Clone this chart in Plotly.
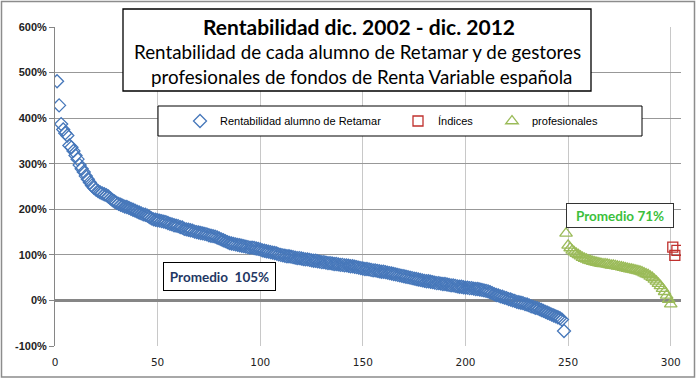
import plotly.graph_objects as go

# ---------------- data ----------------
alumnos_x = list(range(1, 249))
alumnos_y = [
    481, 428, 387, 375, 367, 362, 340, 336, 328, 318,
    310, 297, 289, 282, 273, 266, 259, 252, 247, 243,
    240, 237, 235, 233, 231, 228, 224, 220, 217, 214,
    212, 210, 208, 206, 205, 203, 201, 199, 197, 195,
    193, 191, 189, 188, 186, 183, 180, 178, 177, 176,
    175, 174, 173, 172, 170, 168, 167, 165, 164, 163,
    161, 160, 157, 156, 155, 154, 153, 151, 150, 149,
    148, 147, 146, 145, 143, 142, 141, 140, 138, 136,
    134, 132, 130, 128, 126, 125, 124, 123, 122, 121,
    120, 119, 118, 117, 116, 116, 115, 114, 113, 112,
    110, 109, 108, 107, 106, 105, 104, 103, 101, 100,
    99, 98, 97, 97, 96, 95, 94, 93, 93, 92,
    91, 90, 90, 89, 88, 87, 87, 86, 85, 84,
    84, 83, 82, 82, 81, 80, 80, 79, 78, 78,
    77, 77, 76, 75, 75, 74, 73, 72, 71, 70,
    69, 69, 68, 67, 66, 66, 65, 64, 63, 63,
    62, 61, 60, 59, 58, 57, 56, 55, 54, 53,
    52, 51, 50, 49, 48, 47, 46, 45, 44, 43,
    42, 42, 41, 40, 39, 38, 38, 37, 36, 36,
    35, 34, 33, 33, 32, 31, 30, 30, 29, 28,
    28, 27, 27, 26, 25, 25, 24, 23, 22, 21,
    20, 18, 16, 14, 12, 11, 9, 8, 6, 5,
    3, 2, 0, -1, -3, -4, -5, -6, -8, -9,
    -11, -13, -14, -16, -17, -19, -21, -23, -25, -27,
    -29, -31, -33, -35, -37, -39, -42, -67,
]

profesionales_x = list(range(249, 301))
profesionales_y = [
    147, 121, 115, 110, 106, 103, 100, 97, 94, 92,
    90, 88, 87, 85, 84, 83, 82, 81, 80, 80,
    79, 78, 77, 77, 76, 75, 74, 73, 72, 71,
    70, 69, 68, 67, 66, 65, 64, 62, 60, 58,
    56, 53, 50, 46, 42, 37, 32, 26, 19, 11,
    2, -8,
]

indices_x = [301, 302, 303]
indices_y = [117, 99, 110]

y_ticks = [-100, 0, 100, 200, 300, 400, 500, 600]
x_ticks = [0, 50, 100, 150, 200, 250, 300]

title_line1 = "Rentabilidad dic. 2002 - dic. 2012"
title_line2 = "Rentabilidad de cada alumno de Retamar y de gestores"
title_line3 = "profesionales de fondos de Renta Variable española"
promedio_alumnos = "Promedio\u00a0 105%"
promedio_prof = "Promedio 71%"

# ---------------- layout geometry (pixels) ----------------
W, H = 700, 380
ML, MR, MT, MB = 55, 19, 27, 34
PW = W - ML - MR
PH = H - MT - MB


def px(xp):
    return (xp - ML) / PW


def py(yp):
    return (H - MB - yp) / PH


fig = go.Figure()

fig.add_trace(go.Scatter(
    x=alumnos_x, y=alumnos_y, mode="markers",
    name="Rentabilidad alumno de Retamar",
    marker=dict(symbol="diamond-open", size=10, color="#4677BA",
                line=dict(width=1.3, color="#4677BA")),
    legend="legend",
))
fig.add_trace(go.Scatter(
    x=indices_x, y=indices_y, mode="markers",
    name="Índices",
    marker=dict(symbol="square-open", size=10, color="#C0302D",
                line=dict(width=1.3, color="#C0302D")),
    legend="legend2",
))
fig.add_trace(go.Scatter(
    x=profesionales_x, y=profesionales_y, mode="markers",
    name="profesionales",
    marker=dict(symbol="triangle-up-open", size=11, color="#9BBB59",
                line=dict(width=1.3, color="#9BBB59")),
    legend="legend3",
))

legend_font = dict(family="Liberation Sans, Arial, sans-serif", size=11, color="#000000")
leg_common = dict(bgcolor="rgba(0,0,0,0)", borderwidth=0, font=legend_font,
                  xanchor="left", yanchor="middle", y=py(121), itemsizing="trace")

shapes = [
    # outer chart border
    dict(type="rect", xref="paper", yref="paper",
         x0=px(1.5), x1=px(694.5), y0=py(1.5), y1=py(377),
         line=dict(color="#8C8C8C", width=1.5), layer="below"),
    # title box
    dict(type="rect", xref="paper", yref="paper",
         x0=px(123), x1=px(591), y0=py(9), y1=py(91),
         fillcolor="white", line=dict(color="black", width=1.3), layer="above"),
    # legend box
    dict(type="rect", xref="paper", yref="paper",
         x0=px(158), x1=px(642), y0=py(106), y1=py(136),
         fillcolor="white", line=dict(color="black", width=1), layer="above"),
]

title_font = "Lato, Open Sans, sans-serif"
annotations = [
    dict(text="<b>" + title_line1 + "</b>", x=px(359), y=py(26),
         font=dict(family=title_font, size=21, color="black")),
    dict(text=title_line2, x=px(357), y=py(52),
         font=dict(family=title_font, size=18.8, color="black")),
    dict(text=title_line3, x=px(361), y=py(76),
         font=dict(family=title_font, size=18.8, color="black")),
    dict(text="<b>" + promedio_alumnos + "</b>", x=px(219.5), y=py(276.5),
         width=111, height=27, bgcolor="white", bordercolor="black",
         borderwidth=1, borderpad=0,
         font=dict(family=title_font, size=13.5, color="#1F3864")),
    dict(text="<b>" + promedio_prof + "</b>", x=px(620), y=py(215.5),
         width=106, height=23, bgcolor="white", bordercolor="#333333",
         borderwidth=1, borderpad=0,
         font=dict(family=title_font, size=13.5, color="#3CBF3C")),
]
for a in annotations:
    a.update(xref="paper", yref="paper", showarrow=False,
             xanchor="center", yanchor="middle")

fig.update_layout(
    width=W, height=H,
    margin=dict(l=ML, r=MR, t=MT, b=MB),
    paper_bgcolor="white", plot_bgcolor="white",
    showlegend=True,
    legend=dict(x=px(180), **leg_common),
    legend2=dict(x=px(398), **leg_common),
    legend3=dict(x=px(492), **leg_common),
    shapes=shapes,
    annotations=annotations,
    xaxis=dict(
        range=[0, 305], tickvals=x_ticks, ticktext=[str(v) for v in x_ticks],
        showgrid=True, gridcolor="#C8C8C8", gridwidth=1,
        zeroline=False, showline=False, ticks="", ticklabelstandoff=8,
        tickfont=dict(family="DejaVu Sans, sans-serif", size=10.5, color="#222222"),
    ),
    yaxis=dict(
        range=[-100, 600], tickvals=y_ticks,
        ticktext=[f"<b>{v}%</b>" for v in y_ticks],
        showgrid=True, gridcolor="#989898", gridwidth=1,
        zeroline=True, zerolinecolor="#868686", zerolinewidth=3,
        showline=True, linecolor="#868686", linewidth=1,
        ticks="outside", ticklen=5, tickcolor="#868686",
        tickfont=dict(family="Liberation Sans, Arial, sans-serif", size=11, color="#222222"),
    ),
)

fig.write_html("out.html")
